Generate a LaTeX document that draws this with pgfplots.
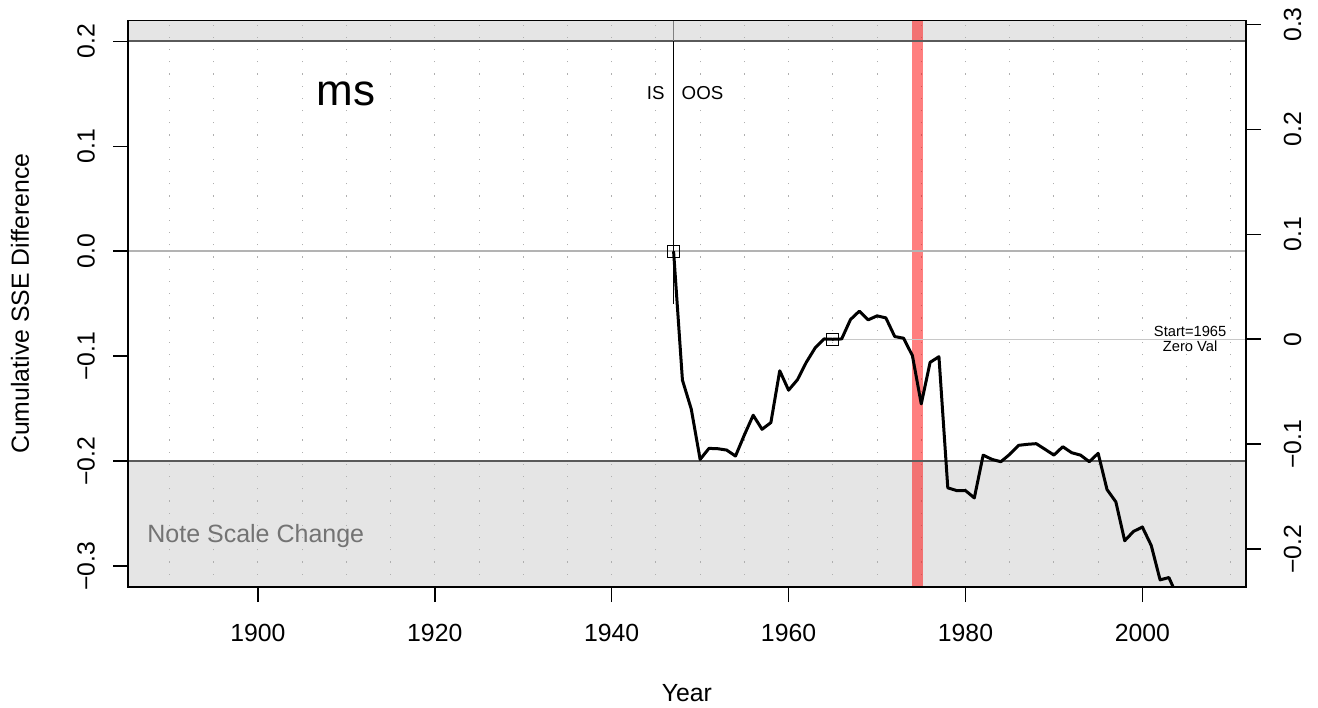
\documentclass[border=0pt]{standalone}
\usepackage{fontspec}
\setmainfont{Liberation Sans}
\usepackage{pgfplots}
\usepackage{pgfplotstable}
\pgfplotsset{compat=1.18}
\definecolor{bandgray}{RGB}{229,229,229}
\definecolor{zerogray}{RGB}{179,179,179}
\definecolor{startgray}{RGB}{200,200,200}
\definecolor{linegray}{RGB}{90,90,90}
\definecolor{notegray}{RGB}{115,115,115}
\definecolor{gridgray}{RGB}{175,175,175}

\pgfplotstableread{
year val
1947 0
1948 -0.1228
1949 -0.1505
1950 -0.1984
1951 -0.1879
1952 -0.1882
1953 -0.1895
1954 -0.1952
1955 -0.1751
1956 -0.1563
1957 -0.1697
1958 -0.1633
1959 -0.1139
1960 -0.1324
1961 -0.1225
1962 -0.1059
1963 -0.0922
1964 -0.0836
1965 -0.0839
1966 -0.0836
1967 -0.0651
1968 -0.0571
1969 -0.0654
1970 -0.0616
1971 -0.0635
1972 -0.0813
1973 -0.0829
1974 -0.0995
1975 -0.1455
1976 -0.1059
1977 -0.1005
1978 -0.2255
1979 -0.2281
1980 -0.2281
1981 -0.2351
1982 -0.1943
1983 -0.1984
1984 -0.2006
1985 -0.1936
1986 -0.1850
1987 -0.1840
1988 -0.1834
1989 -0.1888
1990 -0.1943
1991 -0.1863
1992 -0.1920
1993 -0.1943
1994 -0.2006
1995 -0.1926
1996 -0.2271
1997 -0.2389
1998 -0.2759
1999 -0.2670
2000 -0.2629
2001 -0.2804
2002 -0.3132
2003 -0.3110
2004 -0.3300
}\msdata

\begin{document}
\begin{tikzpicture}
\path[use as bounding box] (0,0) rectangle (1318bp,708bp);
\begin{axis}[
  at={(128bp,121bp)}, anchor=south west,
  scale only axis, width=1117.7bp, height=566.6bp,
  xmin=1885.32, xmax=2011.68, ymin=-0.32, ymax=0.22,
  axis line style={line width=1.6bp},
  xtick={1900,1920,1940,1960,1980,2000},
  xticklabels={1900,1920,1940,1960,1980,2000},
  ytick={-0.3,-0.2,-0.1,0,0.1,0.2},
  yticklabels={−0.3,−0.2,−0.1,0.0,0.1,0.2},
  xtick pos=bottom, ytick pos=left,
  tick align=outside, major tick length=15bp,
  tick style={line width=1.6bp, black},
  tick label style={font=\fontsize{24.8bp}{29bp}\selectfont},
  xticklabel style={anchor=center, yshift=-30.7bp},
  yticklabel style={xshift=-27bp, rotate=90, anchor=center},
  xlabel={Year}, ylabel={Cumulative SSE Difference},
  label style={font=\fontsize{24.8bp}{29bp}\selectfont},
  xlabel style={at={(axis description cs:0.5,-0.1867)}, anchor=center},
  ylabel style={at={(axis description cs:-0.0966,0.5)}, anchor=center},
  clip=true,
]
% shaded bands
\fill[bandgray] (axis cs:1880,0.2) rectangle (axis cs:2020,0.25);
\fill[bandgray] (axis cs:1880,-0.2) rectangle (axis cs:2020,-0.35);
% dotted grid
\pgfplotsinvokeforeach{1890,1895,...,2010}{
  \draw[gridgray, line width=0.9bp, dash pattern=on 1.2bp off 11bp] (axis cs:#1,-0.32) -- (axis cs:#1,0.22);
}
% recession band
\fill[red, opacity=0.5] (axis cs:1973.9,-0.4) rectangle (axis cs:1975.25,0.3);
% reference lines
\addplot[zerogray, line width=1.6bp] coordinates {(1880,0) (2020,0)};
\addplot[linegray, line width=2bp] coordinates {(1880,0.2) (2020,0.2)};
\addplot[linegray, line width=2bp] coordinates {(1880,-0.2) (2020,-0.2)};
\addplot[startgray, line width=1.4bp] coordinates {(1965,-0.0839) (2020,-0.0839)};
\addplot[black, line width=1.4bp] coordinates {(1947,0.2) (1947,-0.05)};
\addplot[gray, line width=1.4bp] coordinates {(1947,0.2) (1947,0.23)};
% data
\addplot[black, line width=3bp, line join=round] table[x=year, y=val] {\msdata};
\addplot[only marks, mark=square, mark size=6bp, mark options={line width=1.3bp, black, fill=none}] coordinates {(1947,0) (1965,-0.0839)};
% texts
\node[font=\fontsize{44bp}{50bp}\selectfont] at (axis cs:1910,0.1496) {ms};
\node[font=\fontsize{18.7bp}{22bp}\selectfont, anchor=east, inner sep=0pt] at (axis cs:1946,0.151) {IS};
\node[font=\fontsize{18.7bp}{22bp}\selectfont, anchor=west, inner sep=0pt] at (axis cs:1947.9,0.151) {OOS};
\node[font=\fontsize{14.7bp}{17bp}\selectfont, anchor=base, inner sep=0pt] at (axis cs:2005.4,-0.0811) {Start=1965};
\node[font=\fontsize{14.7bp}{17bp}\selectfont, anchor=base, inner sep=0pt] at (axis cs:2005.4,-0.0951) {Zero Val};
\node[font=\fontsize{25bp}{29bp}\selectfont, anchor=base west, inner sep=0pt, text=notegray] at (axis cs:1887.49,-0.2776) {Note Scale Change};
\end{axis}
\begin{axis}[
  at={(128bp,121bp)}, anchor=south west,
  scale only axis, width=1117.7bp, height=566.6bp,
  xmin=1885.32, xmax=2011.68, ymin=-0.2361, ymax=0.3039,
  axis line style={line width=1.6bp},
  xtick=\empty,
  ytick={-0.2,-0.1,0,0.1,0.2,0.3},
  yticklabels={−0.2,−0.1,0,0.1,0.2,0.3},
  ytick pos=right,
  tick align=outside, major tick length=15bp,
  tick style={line width=1.6bp, black},
  tick label style={font=\fontsize{24.8bp}{29bp}\selectfont},
  yticklabel style={xshift=32bp, rotate=90, anchor=center},
]
\end{axis}
\end{tikzpicture}
\end{document}
